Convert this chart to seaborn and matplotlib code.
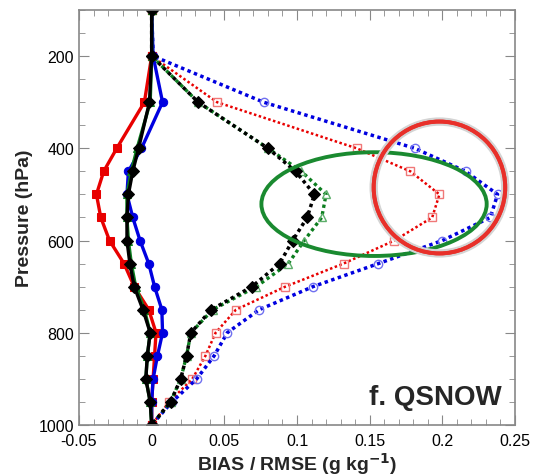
import numpy as np
import pandas as pd
import seaborn as sns
import matplotlib.pyplot as plt
from matplotlib.patches import Ellipse
from matplotlib.ticker import MultipleLocator, FormatStrFormatter
import matplotlib.patheffects as pe

# pressure levels (hPa)
pressure = [100, 200, 300, 400, 450, 500, 550, 600, 650, 700, 750, 800, 850, 900, 950, 1000]

# BIAS (solid lines)
bias_red = [0, 0, -0.005, -0.024, -0.033, -0.038, -0.035, -0.029, -0.019, -0.012, -0.002, 0.003, 0.002, 0.001, 0, 0]
bias_blue = [0, 0.001, 0.0075, -0.007, -0.016, -0.017, -0.013, -0.008, -0.002, 0.002, 0.007, 0.0075, 0.004, 0.001, 0, 0]
bias_green = [0, 0, -0.001, -0.010, -0.014, -0.017, -0.017, -0.016, -0.014, -0.011, -0.005, -0.001, -0.003, -0.004, -0.001, 0]
bias_black = [0, 0, -0.0015, -0.009, -0.013, -0.016, -0.017, -0.017, -0.015, -0.012, -0.006, -0.001, -0.003, -0.004, -0.001, 0]

# RMSE (dotted lines)
rmse_red = [0, 0, 0.045, 0.141, 0.178, 0.198, 0.193, 0.167, 0.132, 0.092, 0.058, 0.044, 0.037, 0.028, 0.012, 0]
rmse_blue = [0, 0.001, 0.077, 0.181, 0.216, 0.238, 0.233, 0.200, 0.156, 0.111, 0.074, 0.052, 0.043, 0.031, 0.014, 0]
rmse_green = [0, 0, 0.032, 0.080, 0.103, 0.120, 0.117, 0.105, 0.094, 0.072, 0.042, 0.027, 0.024, 0.020, 0.013, 0]
rmse_black = [0, 0, 0.032, 0.080, 0.099, 0.112, 0.107, 0.097, 0.088, 0.069, 0.041, 0.027, 0.024, 0.020, 0.013, 0]

sns.set_style('ticks')
plt.rcParams['font.family'] = ['Liberation Sans', 'DejaVu Sans']
plt.rcParams['axes.unicode_minus'] = False

fig = plt.figure(figsize=(5.41, 4.77), dpi=100)
ax = fig.add_axes([0.146, 0.107, 0.806, 0.870])

RED, BLUE, GREEN, BLACK = '#e80000', '#0000e0', '#0b7d1e', '#000000'

# dotted RMSE lines
dot = dict(linestyle=(0, (1, 1)), orient='y', estimator=None, sort=True)
sns.lineplot(x=rmse_red, y=pressure, ax=ax, color=RED, linewidth=1.8, marker='s', markersize=6,
             markerfacecolor='none', markeredgecolor='#f07878', markeredgewidth=1, **dot)
sns.lineplot(x=rmse_blue, y=pressure, ax=ax, color=BLUE, linewidth=2.5, marker='o', markersize=6,
             markerfacecolor='none', markeredgecolor='#7070f0', markeredgewidth=1, **dot)
sns.lineplot(x=rmse_green, y=pressure, ax=ax, color=GREEN, linewidth=2.4, marker='^', markersize=6,
             markerfacecolor='none', markeredgecolor='#5cae6a', markeredgewidth=1, **dot)
sns.lineplot(x=rmse_black, y=pressure, ax=ax, color=BLACK, linewidth=2.5, marker='D', markersize=6,
             markerfacecolor=BLACK, markeredgecolor=BLACK, **dot)

# solid BIAS lines
sol = dict(linestyle='-', linewidth=2.4, orient='y', estimator=None, sort=True)
sns.lineplot(x=bias_red, y=pressure, ax=ax, color=RED, marker='s', markersize=6,
             markeredgecolor=RED, **sol)
sns.lineplot(x=bias_blue, y=pressure, ax=ax, color=BLUE, marker='o', markersize=6,
             markeredgecolor=BLUE, **sol)
sns.lineplot(x=bias_green, y=pressure, ax=ax, color=GREEN, marker='^', markersize=6,
             markeredgecolor=GREEN, **sol)
sns.lineplot(x=bias_black, y=pressure, ax=ax, color=BLACK, marker='D', markersize=6,
             markeredgecolor=BLACK, **sol)

# highlight ellipses
ax.add_patch(Ellipse((0.153, 521), 0.155, 225, fill=False, edgecolor='#1a8a30', linewidth=2.8, zorder=5))
red_circ = Ellipse((0.198, 485), 0.0905, 286, fill=False, edgecolor='#e8302a', linewidth=2.8, zorder=6)
red_circ.set_path_effects([pe.withStroke(linewidth=6, foreground='#d4d4d4'), pe.Normal()])
ax.add_patch(red_circ)

ax.set_xlim(-0.05, 0.25)
ax.set_ylim(1000, 100)
ax.xaxis.set_major_locator(MultipleLocator(0.05))
ax.xaxis.set_minor_locator(MultipleLocator(0.01))
ax.xaxis.set_major_formatter(FormatStrFormatter('%g'))
ax.yaxis.set_major_locator(MultipleLocator(200))
ax.yaxis.set_minor_locator(MultipleLocator(50))
ax.tick_params(which='both', direction='in', top=True, right=True, colors='#888888',
               labelcolor='black', labelsize=11.5)
ax.tick_params(which='major', length=7)
ax.tick_params(which='minor', length=4)
ax.tick_params(axis='x', which='major', pad=6)
for s in ax.spines.values():
    s.set_color('#888888')
    s.set_linewidth(1.2)

ax.set_xlabel('BIAS / RMSE (g kg$^{\\mathbf{-1}}$)', fontsize=14, fontweight='bold', labelpad=1)
ax.set_ylabel('Pressure (hPa)', fontsize=14, fontweight='bold', labelpad=4)
ax.text(0.241, 955, 'f. QSNOW', fontsize=20, fontweight='bold', ha='right', va='baseline')

fig.savefig('out.png', dpi=100)
